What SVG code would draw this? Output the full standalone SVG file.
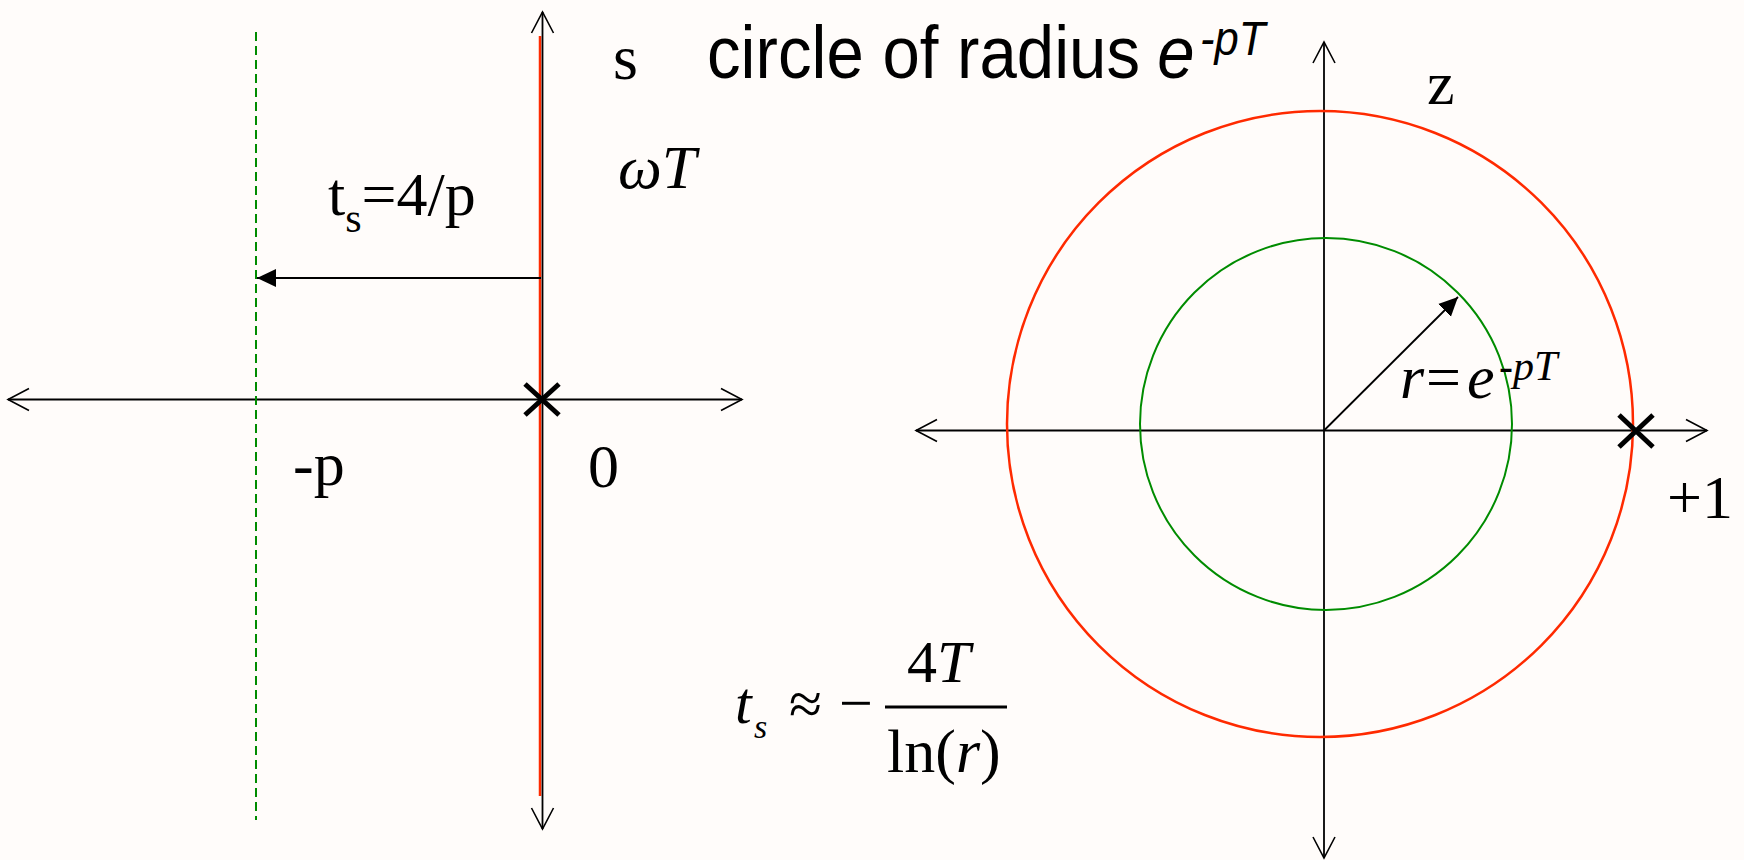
<svg xmlns="http://www.w3.org/2000/svg" width="1744" height="860" viewBox="0 0 1744 860">
  <style>
    .axis { stroke: #000; stroke-width: 1.8; fill: none; }
    .red { stroke: #ff2a00; stroke-width: 2.5; fill: none; }
    .green { stroke: #008c00; stroke-width: 2; fill: none; }
    .xmark { stroke: #000; stroke-width: 5; fill: none; }
    .serif { font-family: "Liberation Serif", "Times New Roman", serif; fill: #000; }
    .sans { font-family: "Liberation Sans", Arial, sans-serif; fill: #000; }
    .it { font-style: italic; }
  </style>
  <defs>
    <marker id="open" viewBox="0 0 24 26" refX="22" refY="13" markerWidth="24" markerHeight="26" markerUnits="userSpaceOnUse" orient="auto-start-reverse">
      <path d="M1,2 L22,13 L1,24" fill="none" stroke="#000" stroke-width="1.6"/>
    </marker>
    <marker id="solid" viewBox="0 0 20 20" refX="19" refY="10" markerWidth="20" markerHeight="20" markerUnits="userSpaceOnUse" orient="auto">
      <path d="M0,1 L19,10 L0,19 Z" fill="#000"/>
    </marker>
  </defs>
  <rect x="0" y="0" width="1744" height="860" fill="#fffcfa"/>

  <g id="connectors">
    <!-- s-plane -->
    <line id="s-stability-boundary" class="red" x1="540" y1="36" x2="540" y2="796"/>
    <line id="s-real-axis" class="axis" x1="8" y1="399.5" x2="742" y2="399.5" marker-start="url(#open)" marker-end="url(#open)"/>
    <line id="s-imag-axis" class="axis" x1="542.5" y1="12" x2="542.5" y2="829" marker-start="url(#open)" marker-end="url(#open)"/>
    <line id="s-settling-line" class="green" x1="256" y1="32" x2="256" y2="820" stroke-dasharray="9,5"/>
    <line id="s-shift-arrow" class="axis" x1="541" y1="278" x2="257" y2="278" marker-end="url(#solid)"/>
    <!-- z-plane -->
    <line id="z-real-axis" class="axis" x1="916" y1="430.5" x2="1707" y2="430.5" marker-start="url(#open)" marker-end="url(#open)"/>
    <line id="z-imag-axis" class="axis" x1="1324" y1="42" x2="1324" y2="858" marker-start="url(#open)" marker-end="url(#open)"/>
    <line id="z-radius-arrow" class="axis" x1="1324" y1="430.5" x2="1458" y2="297" marker-end="url(#solid)"/>
  </g>

  <g id="z-unit-circle">
    <circle class="red" cx="1320" cy="424" r="313"/>
  </g>
  <g id="z-radius-circle">
    <circle class="green" cx="1326" cy="424" r="186"/>
  </g>

  <g id="s-pole">
    <path class="xmark" d="M525,384 L559,415 M559,384 L525,415"/>
  </g>
  <g id="z-pole">
    <path class="xmark" d="M1619,415 L1653,447 M1653,415 L1619,447"/>
  </g>

  <g id="label-s"><text class="serif" x="613" y="79" font-size="64">s</text></g>
  <g id="label-omegaT"><text class="serif it" x="618" y="188" font-size="62">ωT</text></g>
  <g id="label-ts">
    <text class="serif" x="328" y="215" font-size="62">t<tspan font-size="42" dy="17">s</tspan><tspan dy="-17">=4/p</tspan></text>
  </g>
  <g id="label-minus-p"><text class="serif" x="293" y="485" font-size="62">-p</text></g>
  <g id="label-zero"><text class="serif" x="588" y="487" font-size="62">0</text></g>

  <g id="label-circle">
    <text class="sans" transform="translate(707,78) scale(0.908,1)" font-size="74">circle of radius <tspan class="it" x="496">e</tspan><tspan class="it" x="543" y="-23" font-size="48">-pT</tspan></text>
  </g>
  <g id="label-z"><text class="serif" x="1427" y="104" font-size="62">z</text></g>
  <g id="label-plus1"><text class="serif" x="1667" y="518" font-size="62">+1</text></g>
  <g id="label-r">
    <text class="serif" y="398" font-size="62"><tspan class="it" x="1400">r</tspan><tspan x="1426">=</tspan><tspan class="it" x="1467">e</tspan><tspan class="it" x="1499" dy="-18" font-size="42">-pT</tspan></text>
  </g>

  <g id="formula">
    <text class="serif it" x="735" y="723" font-size="60">t</text>
    <text class="serif it" x="754" y="738" font-size="34">s</text>
    <text class="serif" x="789" y="724" font-size="60">≈</text>
    <text class="serif" x="839" y="723" font-size="60">−</text>
    <line x1="885" y1="707" x2="1007" y2="707" stroke="#000" stroke-width="3"/>
    <text class="serif" x="907" y="682" font-size="60">4<tspan class="it">T</tspan></text>
    <text class="serif" x="887" y="772" font-size="62">ln(<tspan class="it">r</tspan>)</text>
  </g>
</svg>
